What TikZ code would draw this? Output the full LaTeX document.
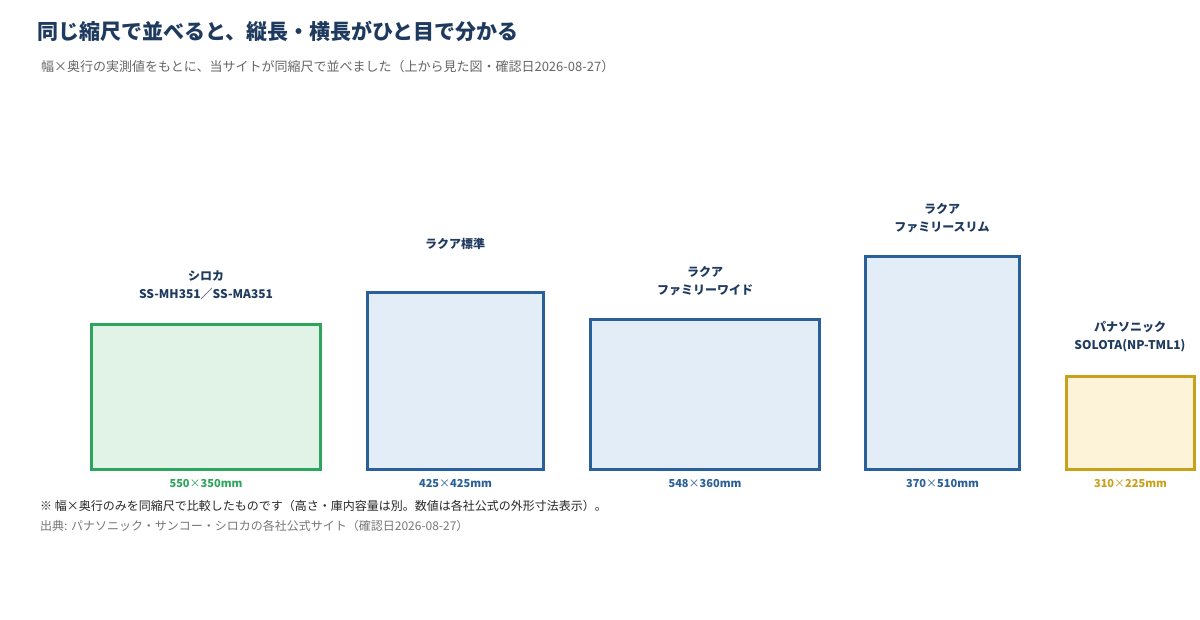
\documentclass[tikz,border=0pt]{standalone}
\usepackage{fontspec}
\setmainfont{Noto Sans CJK JP}
\definecolor{navy}{HTML}{1F3A5F}
\definecolor{subgray}{HTML}{666666}
\definecolor{srcgray}{HTML}{777777}
\definecolor{bluestroke}{HTML}{2A6099}
\definecolor{bluefill}{HTML}{E3EDF8}
\definecolor{greenstroke}{HTML}{2EA55D}
\definecolor{greenfill}{HTML}{E1F2E7}
\definecolor{goldstroke}{HTML}{C9A01A}
\definecolor{goldfill}{HTML}{FCF3D8}
\newcommand{\tm}{{\mdseries ×}}
\tikzset{
  box/.style={draw, line width=3pt, inner sep=0pt, outer sep=0pt, anchor=south west},
  bluebox/.style={box, draw=bluestroke, fill=bluefill},
  greenbox/.style={box, draw=greenstroke, fill=greenfill},
  goldbox/.style={box, draw=goldstroke, fill=goldfill},
  lbl/.style={font=\fontsize{12}{18}\selectfont\bfseries, text=navy, align=center, inner sep=0pt},
  dim/.style={font=\fontsize{11}{13}\selectfont\bfseries, inner sep=0pt},
  txt/.style={inner sep=0pt, anchor=west},
}
\begin{document}
\begin{tikzpicture}[x=1pt,y=-1pt]
\useasboundingbox (0,0) rectangle (1200,620);
\fill[white] (0,0) rectangle (1200,620);
\node[txt, font=\fontsize{21}{24}\selectfont\bfseries, text=navy] (title) at (37,31) {同じ縮尺で並べると、縦長・横長がひと目で分かる};
\node[txt, font=\fontsize{13}{15}\selectfont, text=subgray] (sub) at (41,67) {幅×奥行の実測値をもとに、当サイトが同縮尺で並べました（上から見た図・確認日2026-08-27）};

\node[greenbox, minimum width=229pt, minimum height=144.5pt] (b1) at (91.5,469) {};
\node[bluebox, minimum width=176pt, minimum height=176.5pt] (b2) at (367.5,469) {};
\node[bluebox, minimum width=229pt, minimum height=149.5pt] (b3) at (590.5,469) {};
\node[bluebox, minimum width=154pt, minimum height=212.5pt] (b4) at (865.5,469) {};
\node[goldbox, minimum width=128pt, minimum height=92.5pt] (b5) at (1066.5,469) {};

\node[lbl] (l1) at (206,285) {シロカ\\SS-MH351／SS-MA351};
\node[lbl] (l2) at (455,244) {ラクア標準};
\node[lbl] (l3) at (705,281) {ラクア\\ファミリーワイド};
\node[lbl] (l4) at (942,218) {ラクア\\ファミリースリム};
\node[lbl] (l5) at (1130,337) {パナソニック\\SOLOTA(NP-TML1)};

\node[dim, text=greenstroke] (d1) at (206,484) {550\tm350mm};
\node[dim, text=bluestroke] (d2) at (455.5,484) {425\tm425mm};
\node[dim, text=bluestroke] (d3) at (705,484) {548\tm360mm};
\node[dim, text=bluestroke] (d4) at (942.5,484) {370\tm510mm};
\node[dim, text=goldstroke] (d5) at (1130.5,484) {310\tm225mm};

\node[txt, font=\fontsize{12}{14}\selectfont, text=black!85] (note) at (40,506) {※ 幅×奥行のみを同縮尺で比較したものです（高さ・庫内容量は別。数値は各社公式の外形寸法表示）。};
\node[txt, font=\fontsize{12}{14}\selectfont, text=srcgray] (src) at (40,526) {出典: パナソニック・サンコー・シロカの各社公式サイト（確認日2026-08-27）};
\end{tikzpicture}
\end{document}
